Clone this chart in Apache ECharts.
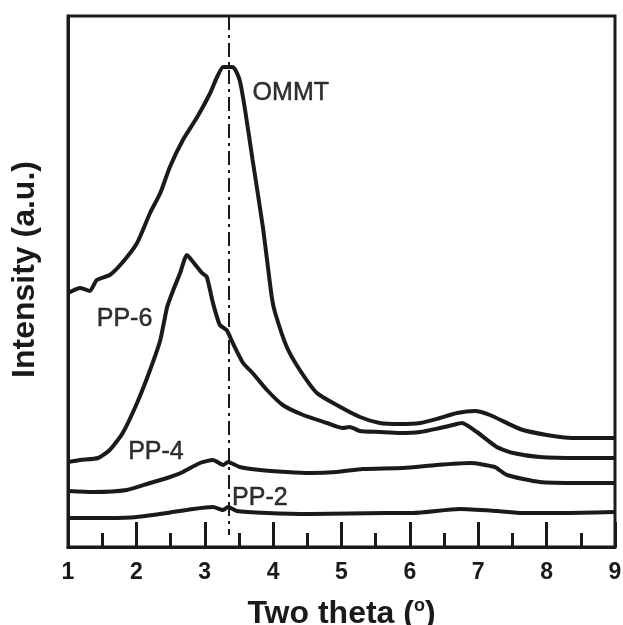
<!DOCTYPE html>
<html>
<head>
<meta charset="utf-8">
<script src="https://cdn.jsdelivr.net/npm/echarts@6/dist/echarts.min.js"></script>
<style>
  html, body { margin: 0; padding: 0; background: #fff; }
  #main { width: 623px; height: 625px; }
</style>
</head>
<body>
<div id="main"></div>
<script>
// two theta (deg), intensity (a.u., offset traces)
var ommt = [[1.00,254],[1.18,259],[1.32,256],[1.42,267],[1.61,272],[1.79,284],[2.01,304],[2.20,334],[2.35,354],[2.49,380],[2.68,407],[2.89,430],[3.08,454],[3.18,470],[3.27,480],[3.41,480],[3.51,467],[3.59,437],[3.70,387],[3.85,320],[3.98,250],[4.03,234],[4.20,200],[4.39,177],[4.64,154],[4.93,142],[5.27,130],[5.56,124],[5.85,123],[6.15,124],[6.44,129],[6.69,134],[6.95,136],[7.17,132],[7.61,118],[8.00,112],[8.38,109],[9.00,109]];
var pp6 = [[1.00,85],[1.18,87],[1.44,89],[1.61,97],[1.80,114],[2.01,144],[2.20,177],[2.35,207],[2.45,240],[2.54,257],[2.64,274],[2.74,292],[2.83,285],[2.96,274],[3.03,270],[3.12,244],[3.22,222],[3.32,217],[3.41,204],[3.56,184],[3.70,174],[3.91,157],[4.14,142],[4.44,132],[4.79,124],[5.02,119],[5.12,120],[5.27,116],[5.56,115],[5.85,114],[6.15,115],[6.44,119],[6.63,122],[6.76,124],[6.98,115],[7.27,100],[7.51,94],[7.90,90],[8.49,89],[9.00,89]];
var pp4 = [[1.00,56],[1.37,55],[1.86,57],[2.20,64],[2.45,69],[2.68,75],[2.93,84],[3.12,87],[3.27,82],[3.34,85],[3.51,80],[3.81,77],[4.20,75],[4.54,74],[4.93,75],[5.31,78],[5.90,79],[6.39,82],[6.88,84],[7.24,80],[7.42,72],[7.90,65],[8.49,64],[9.00,64]];
var pp2 = [[1.00,29],[1.61,29],[2.01,30],[2.45,34],[2.83,38],[3.12,40],[3.27,37],[3.34,40],[3.47,36],[3.91,34],[4.54,33],[5.66,34],[6.04,34],[6.73,38],[7.27,36],[7.65,34],[8.24,34],[9.00,35]];
var peakLine = 3.35;
var labels = [['OMMT',3.70,454],['PP-6',1.42,228],['PP-4',1.88,95],['PP-2',3.40,49]];
var xTicks = [1,2,3,4,5,6,7,8,9];

var ink = '#1a1a1a';

function trace(data, extra) {
	var s = {
		type: 'line',
		data: data,
		showSymbol: false,
		symbol: 'none',
		smooth: 0.2,
		lineStyle: { color: ink, width: 4 },
		silent: true,
		z: 3
	};
	if (extra) { for (var k in extra) s[k] = extra[k]; }
	return s;
}

var chart = echarts.init(document.getElementById('main'));
var option = {
	animation: false,
	backgroundColor: '#fff',
	grid: {
		left: 68, right: 8, top: 16, bottom: 78,
		outerBoundsMode: 'none',
		containLabel: false,
		show: true, borderColor: ink, borderWidth: 3
	},
	xAxis: {
		type: 'value',
		min: xTicks[0], max: xTicks[xTicks.length - 1], interval: 1,
		name: '{a|Two theta (}{b|o}{a|)}',
		nameLocation: 'middle',
		nameGap: 50,
		nameTextStyle: {
			rich: {
				a: { fontFamily: 'Liberation Sans', fontWeight: 'bold', fontSize: 32, color: ink },
				b: { fontFamily: 'Liberation Sans', fontWeight: 'bold', fontSize: 18, color: ink, verticalAlign: 'bottom', padding: [0, 0, 17, 0] }
			}
		},
		axisLine: { show: true, lineStyle: { color: ink, width: 3 } },
		axisTick: { show: true, inside: true, length: 25, lineStyle: { color: ink, width: 3 } },
		minorTick: { show: true, splitNumber: 2, length: 14, lineStyle: { color: ink, width: 3 } },
		axisLabel: { fontFamily: 'Liberation Sans', fontWeight: 'bold', fontSize: 23, color: ink, margin: 14 },
		splitLine: { show: false }
	},
	yAxis: {
		type: 'value',
		min: 0, max: 531,
		name: 'Intensity (a.u.)',
		nameLocation: 'middle',
		nameGap: 27,
		nameTextStyle: { fontFamily: 'Liberation Sans', fontWeight: 'bold', fontSize: 32, color: ink, padding: [0, 0, 0, 24] },
		axisLine: { show: true, lineStyle: { color: ink, width: 3 } },
		axisTick: { show: false },
		axisLabel: { show: false },
		splitLine: { show: false }
	},
	series: [
		trace(ommt, {
			markLine: {
				silent: true,
				symbol: ['none', 'none'],
				label: { show: false },
				lineStyle: { color: ink, width: 2, type: [14, 5, 3, 5] },
				data: [[{ coord: [peakLine, 531] }, { coord: [peakLine, 12] }]]
			}
		}),
		trace(pp6),
		trace(pp4),
		trace(pp2),
		{
			type: 'scatter',
			symbolSize: 0,
			silent: true,
			data: labels.map(function(l) { return { value: [l[1], l[2]], name: l[0] }; }),
			label: {
				show: true,
				position: 'right',
				distance: 0,
				formatter: '{b}',
				fontFamily: 'Liberation Sans',
				fontSize: 25,
				color: '#000',
				textBorderColor: '#000',
				textBorderWidth: 0.5
			}
		}
	]
};
chart.setOption(option);
</script>
</body>
</html>
